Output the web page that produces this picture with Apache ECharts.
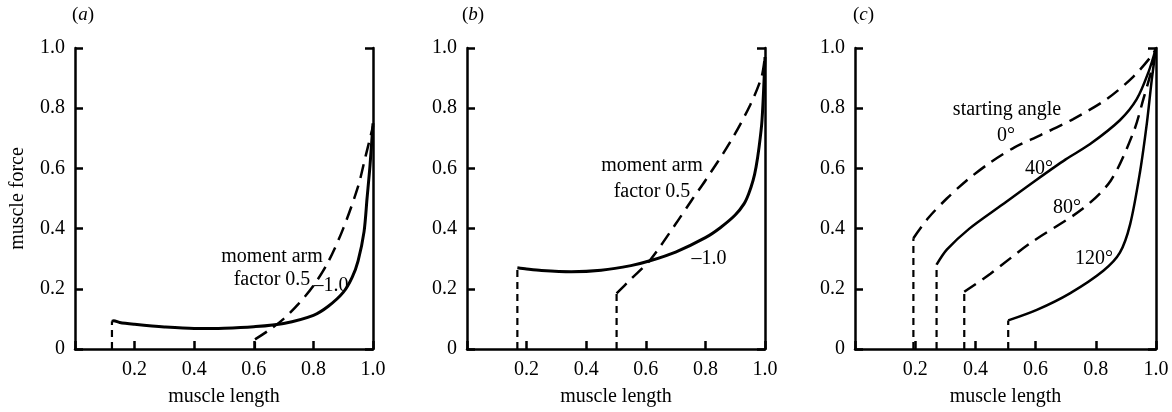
<!DOCTYPE html>
<html>
<head>
<meta charset="utf-8">
<script src="https://cdn.jsdelivr.net/npm/echarts@6/dist/echarts.min.js"></script>
<style>
html,body{margin:0;padding:0;background:#fff;}
#chart{width:1172px;height:412px;}
</style>
</head>
<body>
<div id="chart"></div>
<script>
// ---- data ----
const xTickValues = [0, 0.2, 0.4, 0.6, 0.8, 1.0];
const yTickValues = [0, 0.2, 0.4, 0.6, 0.8, 1.0];
const panelLabels = ['a', 'b', 'c'];
const xAxisName = 'muscle length';
const yAxisName = 'muscle force';

// panel (a): moment arm factor -1.0 (solid) and 0.5 (dashed)
const aSolidX = [0.124, 0.13, 0.15, 0.2, 0.3, 0.4, 0.5, 0.6, 0.7, 0.8, 0.85, 0.9, 0.93, 0.95, 0.97, 0.98, 0.99, 1.0];
const aSolidY = [0.092, 0.094, 0.088, 0.082, 0.073, 0.068, 0.069, 0.074, 0.085, 0.112, 0.142, 0.188, 0.238, 0.293, 0.39, 0.5, 0.61, 0.75];
const aDashX = [0.604, 0.65, 0.7, 0.75, 0.8, 0.85, 0.9, 0.95, 0.975, 0.99, 1.0];
const aDashY = [0.032, 0.062, 0.1, 0.15, 0.21, 0.29, 0.4, 0.54, 0.64, 0.7, 0.74];

// panel (b)
const bSolidX = [0.169, 0.2, 0.25, 0.35, 0.45, 0.55, 0.614, 0.7, 0.8, 0.85, 0.9, 0.93, 0.945, 0.96, 0.97, 0.98, 0.99, 1.0];
const bSolidY = [0.27, 0.266, 0.261, 0.257, 0.262, 0.277, 0.293, 0.322, 0.37, 0.403, 0.445, 0.483, 0.515, 0.56, 0.605, 0.67, 0.76, 0.97];
const bDashX = [0.502, 0.55, 0.614, 0.7, 0.755, 0.8, 0.883, 0.95, 0.989, 1.0];
const bDashY = [0.185, 0.232, 0.295, 0.415, 0.496, 0.56, 0.687, 0.81, 0.906, 0.975];

// panel (c): starting angle 0, 40, 80, 120 degrees
const c0X = [0.194, 0.244, 0.305, 0.371, 0.45, 0.53, 0.615, 0.725, 0.836, 0.925, 0.99, 1.0];
const c0Y = [0.368, 0.436, 0.5, 0.56, 0.62, 0.67, 0.71, 0.764, 0.83, 0.905, 0.98, 1.0];
const c40X = [0.271, 0.305, 0.38, 0.49, 0.6, 0.7, 0.78, 0.88, 0.936, 0.975, 1.0];
const c40Y = [0.28, 0.33, 0.4, 0.48, 0.56, 0.63, 0.68, 0.76, 0.83, 0.92, 1.0];
const c80X = [0.363, 0.45, 0.58, 0.755, 0.85, 0.925, 0.958, 0.986, 1.0];
const c80Y = [0.19, 0.25, 0.35, 0.465, 0.56, 0.72, 0.83, 0.93, 1.0];
const c120X = [0.509, 0.604, 0.714, 0.825, 0.88, 0.914, 0.947, 0.97, 0.986, 1.0];
const c120Y = [0.095, 0.13, 0.185, 0.26, 0.32, 0.414, 0.589, 0.753, 0.895, 1.0];

// ---- chart ----
const FONT = "'Liberation Serif','Times New Roman',serif";
const pts = (xs, ys) => xs.map((x, i) => [x, ys[i]]);
const drop = (xs, ys) => [[xs[0], 0], [xs[0], ys[0]]];

const grids = [
  {left: 75, top: 48, width: 298, height: 305},
  {left: 467, top: 48, width: 298, height: 305},
  {left: 855, top: 48, width: 301, height: 305}
];

const xAxes = [], yAxes = [];
grids.forEach((g, i) => {
  xAxes.push({
    type: 'value', gridIndex: i, min: 0, max: 1, interval: 0.2,
    name: xAxisName, nameLocation: 'middle', nameGap: 38,
    nameTextStyle: {fontFamily: FONT, fontSize: 20, color: '#000'},
    axisLine: {lineStyle: {color: '#000', width: 2.5}},
    axisTick: {inside: true, length: 8, lineStyle: {color: '#000', width: 2.5}},
    axisLabel: {fontFamily: FONT, fontSize: 20, color: '#000', margin: 11,
      formatter: v => v === 0 ? '' : v.toFixed(1)},
    splitLine: {show: false}
  });
  yAxes.push({
    type: 'value', gridIndex: i, min: 0, max: 1, interval: 0.2,
    name: i === 0 ? yAxisName : '', nameLocation: 'middle', nameGap: 47,
    nameTextStyle: {fontFamily: FONT, fontSize: 20, color: '#000'},
    axisLine: {lineStyle: {color: '#000', width: 2.5}},
    axisTick: {inside: true, length: 8, lineStyle: {color: '#000', width: 2.5}},
    axisLabel: {fontFamily: FONT, fontSize: 20, color: '#000', margin: 10,
      formatter: v => v === 0 ? '0' : v.toFixed(1)},
    splitLine: {show: false}
  });
  yAxes.push({
    type: 'value', gridIndex: i, position: 'right', min: 0, max: 1, interval: 1,
    axisLine: {show: true, lineStyle: {color: '#000', width: 2.5}},
    axisTick: {inside: true, length: 8, lineStyle: {color: '#000', width: 2.5}},
    axisLabel: {show: false},
    splitLine: {show: false}
  });
});

function line(gi, data, dashed, width) {
  return {
    type: 'line', xAxisIndex: gi, yAxisIndex: gi * 2, data: data,
    showSymbol: false, symbol: 'none', smooth: 0.3,
    lineStyle: {color: '#000', width: width, type: dashed ? [14, 8] : 'solid'},
    silent: true, animation: false, z: 3
  };
}
function dropLine(gi, data) {
  return {
    type: 'line', xAxisIndex: gi, yAxisIndex: gi * 2, data: data,
    showSymbol: false, symbol: 'none',
    lineStyle: {color: '#000', width: 2.2, type: [7, 5]},
    silent: true, animation: false, z: 2
  };
}

const series = [
  line(0, pts(aSolidX, aSolidY), false, 3), dropLine(0, drop(aSolidX, aSolidY)),
  line(0, pts(aDashX, aDashY), true, 2.5), dropLine(0, drop(aDashX, aDashY)),
  line(1, pts(bSolidX, bSolidY), false, 3), dropLine(1, drop(bSolidX, bSolidY)),
  line(1, pts(bDashX, bDashY), true, 2.5), dropLine(1, drop(bDashX, bDashY)),
  line(2, pts(c0X, c0Y), true, 2.5), dropLine(2, drop(c0X, c0Y)),
  line(2, pts(c40X, c40Y), false, 2.5), dropLine(2, drop(c40X, c40Y)),
  line(2, pts(c80X, c80Y), true, 2.5), dropLine(2, drop(c80X, c80Y)),
  line(2, pts(c120X, c120Y), false, 2.5), dropLine(2, drop(c120X, c120Y))
];

const txt = (x, y, text, size) => ({
  type: 'text', x: x, y: y, z: 10,
  style: {text: text, fontFamily: FONT, fontSize: size || 20, fill: '#000',
    align: 'center', verticalAlign: 'middle'}
});
const panelLabel = (x, letter) => ({
  type: 'text', x: x, y: 15, z: 10,
  style: {
    text: '(' + '{i|' + letter + '})',
    fontFamily: FONT, fontSize: 19, fill: '#000', align: 'left', verticalAlign: 'middle',
    rich: {i: {fontFamily: FONT, fontSize: 19, fontStyle: 'italic', fill: '#000'}}
  }
});

const graphic = [
  panelLabel(72, panelLabels[0]), panelLabel(462, panelLabels[1]), panelLabel(853, panelLabels[2]),
  txt(272, 257, 'moment arm'), txt(272, 280, 'factor 0.5'), txt(331, 286, '–1.0'),
  txt(652, 166, 'moment arm'), txt(652, 192, 'factor 0.5'), txt(709, 259, '–1.0'),
  txt(1007, 110, 'starting angle'), txt(1006, 136, '0°'), txt(1039, 169, '40°'),
  txt(1067, 208, '80°'), txt(1094, 259, '120°')
];

const chart = echarts.init(document.getElementById('chart'), null, {renderer: 'canvas'});
chart.setOption({
  backgroundColor: '#fff',
  animation: false,
  grid: grids,
  xAxis: xAxes,
  yAxis: yAxes,
  series: series,
  graphic: graphic
});
</script>
</body>
</html>
